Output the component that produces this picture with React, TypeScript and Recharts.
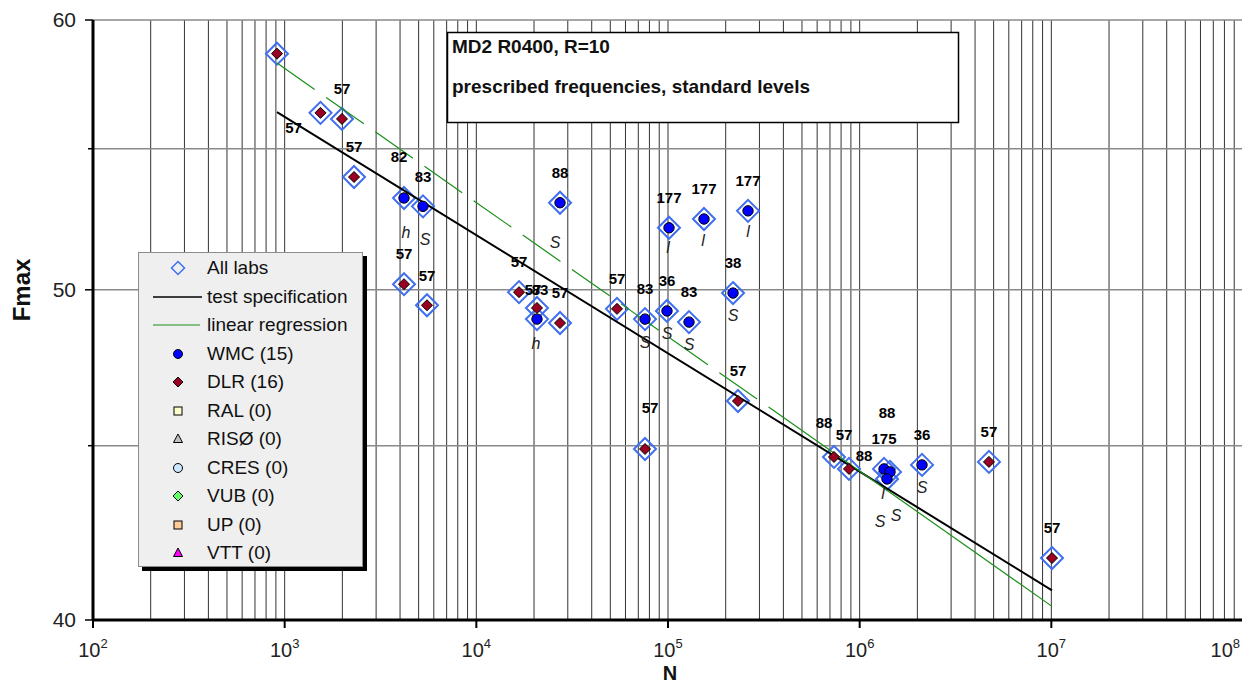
import React from 'react'
import { ScatterChart, Scatter, XAxis, YAxis, CartesianGrid, Legend } from 'recharts'

const FONT = '"Liberation Sans", Arial, Helvetica, sans-serif'
const W = 1240
const H = 672

// WMC specimens: cycles to failure, max load, test id, failure mode
const wmcCycles = [4195, 5268, 27330, 101200, 154100, 261500, 20720, 75860, 98790, 128700, 218400, 1340000, 1440000, 1389000, 2115000]
const wmcFmax = [53.2, 52.9, 53.03, 52.14, 52.45, 52.74, 49.02, 49.02, 49.29, 48.92, 49.89, 44.3, 44.21, 44.0, 44.42]
const wmcTest = ['82', '83', '88', '177', '177', '177', '83', '83', '36', '83', '38', '175', '88', '88', '36']
const wmcMode = ['h', 'S', 'S', 'l', 'l', 'l', 'h', 'S', 'S', 'S', 'S', 'l', 'S', 'S', 'S']

// DLR specimens
const dlrCycles = [912, 1538, 1991, 2301, 4195, 5527, 16700, 20720, 27330, 54190, 75860, 231800, 734500, 879700, 4727000, 10080000]
const dlrFmax = [58.65, 56.35, 56.12, 53.96, 50.19, 49.48, 49.92, 49.39, 48.89, 49.36, 44.9, 46.38, 44.66, 44.3, 44.51, 41.71]
const dlrTest = ['', '57', '57', '57', '57', '57', '57', '57', '57', '57', '57', '57', '88', '57', '57', '57']

// test specification line (end points)
const specCycles = [912, 10080000]
const specFmax = [56.38, 40.81]

// linear regression line: dashed up to the break, solid after it
const regCycles = [912, 384000, 10080000]
const regFmax = [58.28, 45.94, 40.37]

const yTicks = [40, 45, 50, 55, 60]
const decades = [100, 1e3, 1e4, 1e5, 1e6, 1e7, 1e8]
const xTicks: number[] = []
for (let e = 2; e < 8; e++) for (let m = 1; m < 10; m++) xTicks.push(m * 10 ** e)
xTicks.push(1e8)

const legendRows = [
  { label: 'All labs', kind: 'all' },
  { label: 'test specification', kind: 'spec' },
  { label: 'linear regression', kind: 'reg' },
  { label: 'WMC (15)', kind: 'wmc' },
  { label: 'DLR (16)', kind: 'dlr' },
  { label: 'RAL (0)', kind: 'ral' },
  { label: 'RISØ (0)', kind: 'riso' },
  { label: 'CRES (0)', kind: 'cres' },
  { label: 'VUB (0)', kind: 'vub' },
  { label: 'UP (0)', kind: 'up' },
  { label: 'VTT (0)', kind: 'vtt' },
]

const wmcPoints = wmcCycles.map((n, i) => ({ n, f: wmcFmax[i], test: wmcTest[i], mode: wmcMode[i], id: `wmc-${i}` }))
const dlrPoints = dlrCycles.map((n, i) => ({ n, f: dlrFmax[i], test: dlrTest[i], mode: '', id: `dlr-${i}` }))
const allPoints = [...wmcPoints, ...dlrPoints]
const specLine = specCycles.map((n, i) => ({ n, f: specFmax[i] }))
const regDashed = regCycles.slice(0, 2).map((n, i) => ({ n, f: regFmax[i] }))
const regSolid = regCycles.slice(1).map((n, i) => ({ n, f: regFmax[i + 1] }))

// label placement (px) where the default above/below spot would collide
const labelNudge: Record<string, [number, number]> = {
  'dlr-1': [-27, 15],
  'dlr-7': [-4, -18],
  'dlr-10': [5, -41],
  'dlr-12': [-10, -34],
  'dlr-13': [-5, -34],
  'wmc-0': [-5, -41],
  'wmc-6': [3, -29],
  'wmc-12': [-3, -59],
  'wmc-13': [-23, -23],
}
const tagNudge: Record<string, [number, number]> = {
  'wmc-0': [2, 34],
  'wmc-1': [2, 33],
  'wmc-2': [-5, 40],
  'wmc-3': [-1, 20],
  'wmc-4': [-1, 21],
  'wmc-5': [0, 21],
  'wmc-6': [-1, 24],
  'wmc-7': [0, 23],
  'wmc-11': [-1, 24],
  'wmc-12': [6, 43],
  'wmc-13': [-7, 42],
}

const diamond = (cx: number, cy: number, r: number) => `M${cx},${cy - r}L${cx + r},${cy}L${cx},${cy + r}L${cx - r},${cy}Z`

function Annotations({ cx, cy, p }: any) {
  const [lx, ly] = labelNudge[p.id] ?? [0, -30]
  const [tx, ty] = tagNudge[p.id] ?? [0, 22]
  return (
    <>
      {p.test && (
        <text x={cx + lx} y={cy + ly} dy="0.35em" textAnchor="middle" fontFamily={FONT} fontSize={15} fontWeight="bold" fill="#000">
          {p.test}
        </text>
      )}
      {p.mode && (
        <text x={cx + tx} y={cy + ty} dy="0.35em" textAnchor="middle" fontFamily={FONT} fontSize={16} fontStyle="italic" fill="#222">
          {p.mode}
        </text>
      )}
    </>
  )
}

const OpenDiamond = (props: any) => (
  <path d={diamond(props.cx, props.cy, 11)} fill="none" stroke="#3f6fee" strokeWidth={2} />
)

const WmcDot = (props: any) => (
  <g>
    <circle cx={props.cx} cy={props.cy} r={5.2} fill="#0000ff" stroke="#000" strokeWidth={1} />
    <Annotations cx={props.cx} cy={props.cy} p={props.payload} />
  </g>
)

const DlrDot = (props: any) => (
  <g>
    <path d={diamond(props.cx, props.cy, 5.5)} fill="#990022" stroke="#000" strokeWidth={1} />
    <Annotations cx={props.cx} cy={props.cy} p={props.payload} />
  </g>
)

const NoDot = () => <g />

function DecadeTick({ x, y, payload }: any) {
  const v = payload.value
  if (!decades.includes(v)) return <g />
  const e = Math.round(Math.log10(v))
  const last = v === decades[decades.length - 1]
  return (
    <g>
      <line x1={x} x2={x} y1={y} y2={y + 8} stroke="#000" strokeWidth={2} />
      <text x={last ? x - 3 : x} y={y + 37} textAnchor={last ? 'end' : 'middle'} fontFamily={FONT} fontSize={20} fill="#222">
        <tspan>10</tspan>
        <tspan dy={-9} fontSize={13}>{e}</tspan>
      </text>
    </g>
  )
}

function FmaxTick({ x, y, payload }: any) {
  const v = payload.value
  const major = v % 10 === 0
  return (
    <g>
      <line x1={x - (major ? 8 : 5)} x2={x} y1={y} y2={y} stroke="#000" strokeWidth={1.5} />
      {major && (
        <text x={x - 17} y={y} dy="0.35em" textAnchor="end" fontFamily={FONT} fontSize={21} fill="#222">
          {v}
        </text>
      )}
    </g>
  )
}

function legendMark(kind: string) {
  const cx = 39
  const cy = 14
  switch (kind) {
    case 'all':
      return <path d={diamond(cx, cy, 6.5)} fill="none" stroke="#3f6fee" strokeWidth={1.5} />
    case 'spec':
      return <line x1={14} x2={63} y1={cy} y2={cy} stroke="#000" strokeWidth={1.5} />
    case 'reg':
      return <line x1={14} x2={61} y1={cy} y2={cy} stroke="#1a8f1a" strokeWidth={1.2} />
    case 'wmc':
      return <circle cx={cx} cy={cy} r={4.5} fill="#0000ff" stroke="#000" />
    case 'dlr':
      return <path d={diamond(cx, cy, 5)} fill="#990022" stroke="#000" />
    case 'ral':
      return <rect x={cx - 4} y={cy - 4} width={8} height={8} fill="#ffffcc" stroke="#000" />
    case 'riso':
      return <path d={`M${cx},${cy - 5}L${cx + 4.5},${cy + 3.5}L${cx - 4.5},${cy + 3.5}Z`} fill="#c0c0c0" stroke="#000" />
    case 'cres':
      return <circle cx={cx} cy={cy} r={4.5} fill="#cce8ff" stroke="#000" />
    case 'vub':
      return <path d={diamond(cx, cy, 5)} fill="#66ff66" stroke="#000" />
    case 'up':
      return <rect x={cx - 4} y={cy - 4} width={8} height={8} fill="#ffcc99" stroke="#000" />
    default:
      return <path d={`M${cx},${cy - 5}L${cx + 4.5},${cy + 3.5}L${cx - 4.5},${cy + 3.5}Z`} fill="#ff00ff" stroke="#000" />
  }
}

function LabsLegend() {
  return (
    <div
      style={{
        width: 225,
        height: 315,
        boxSizing: 'border-box',
        background: '#efefef',
        border: '1px solid #8c8c8c',
        boxShadow: '4px 4px 0 #000',
        paddingTop: 1,
        fontFamily: FONT,
      }}
    >
      {legendRows.map((r) => (
        <div key={r.label} style={{ display: 'flex', alignItems: 'center', height: 28.5 }}>
          <svg width={68} height={28} style={{ flex: 'none' }}>
            {legendMark(r.kind)}
          </svg>
          <span style={{ fontSize: 19, color: '#111', whiteSpace: 'nowrap', lineHeight: '28px' }}>{r.label}</span>
        </div>
      ))}
    </div>
  )
}

export default function App() {
  return (
    <div style={{ position: 'relative', width: W, height: H }}>
      <ScatterChart width={W} height={H} margin={{ top: 12, right: 5, bottom: 0, left: 0 }}>
        <CartesianGrid horizontal={false} stroke="#333" strokeWidth={1} />
        <CartesianGrid vertical={false} stroke="#8a8a8a" strokeWidth={1.5} />
        <XAxis
          type="number"
          dataKey="n"
          scale="log"
          domain={[100, 1e8]}
          allowDataOverflow
          ticks={xTicks}
          interval={0}
          tickSize={0}
          tickMargin={0}
          tick={<DecadeTick />}
          axisLine={{ stroke: '#000', strokeWidth: 3 }}
          height={60}
        />
        <YAxis
          type="number"
          dataKey="f"
          scale="log"
          domain={[40, 60]}
          allowDataOverflow
          ticks={yTicks}
          interval={0}
          tickSize={0}
          tickMargin={0}
          tick={<FmaxTick />}
          axisLine={{ stroke: '#000', strokeWidth: 3 }}
          width={85}
        />
        <Legend
          layout="vertical"
          align="center"
          verticalAlign="middle"
          content={<LabsLegend />}
          wrapperStyle={{ left: 130, top: 244, width: 'auto', height: 'auto' }}
        />
        <Scatter data={allPoints} shape={<OpenDiamond />} isAnimationActive={false} />
        <Scatter data={specLine} shape={<NoDot />} line={{ stroke: '#000', strokeWidth: 2 }} lineType="joint" isAnimationActive={false} />
        <Scatter
          data={regDashed}
          shape={<NoDot />}
          line={{ stroke: '#1a8f1a', strokeWidth: 1.2, strokeDasharray: '46 14' }}
          lineType="joint"
          isAnimationActive={false}
        />
        <Scatter data={regSolid} shape={<NoDot />} line={{ stroke: '#1a8f1a', strokeWidth: 1.2 }} lineType="joint" isAnimationActive={false} />
        <Scatter data={wmcPoints} shape={<WmcDot />} isAnimationActive={false} />
        <Scatter data={dlrPoints} shape={<DlrDot />} isAnimationActive={false} />
      </ScatterChart>
      <svg
        width={W}
        height={H + 8}
        style={{ position: 'absolute', left: 0, top: 0, pointerEvents: 'none' }}
      >
        <rect x={439.5} y={24.5} width={511} height={90} fill="#fff" stroke="#000" strokeWidth={1.5} />
        <text x={444} y={45} fontFamily={FONT} fontSize={19} fontWeight="bold" fill="#111">
          MD2 R0400, R=10
        </text>
        <text x={444} y={85} fontFamily={FONT} fontSize={19} fontWeight="bold" fill="#111">
          prescribed frequencies, standard levels
        </text>
        <text
          x={14}
          y={282}
          transform="rotate(-90 14 282)"
          textAnchor="middle"
          dy="0.35em"
          fontFamily={FONT}
          fontSize={24}
          fontWeight="bold"
          fill="#111"
        >
          Fmax
        </text>
        <text x={662} y={672} textAnchor="middle" fontFamily={FONT} fontSize={20} fontWeight="bold" fill="#111">
          N
        </text>
      </svg>
    </div>
  )
}
